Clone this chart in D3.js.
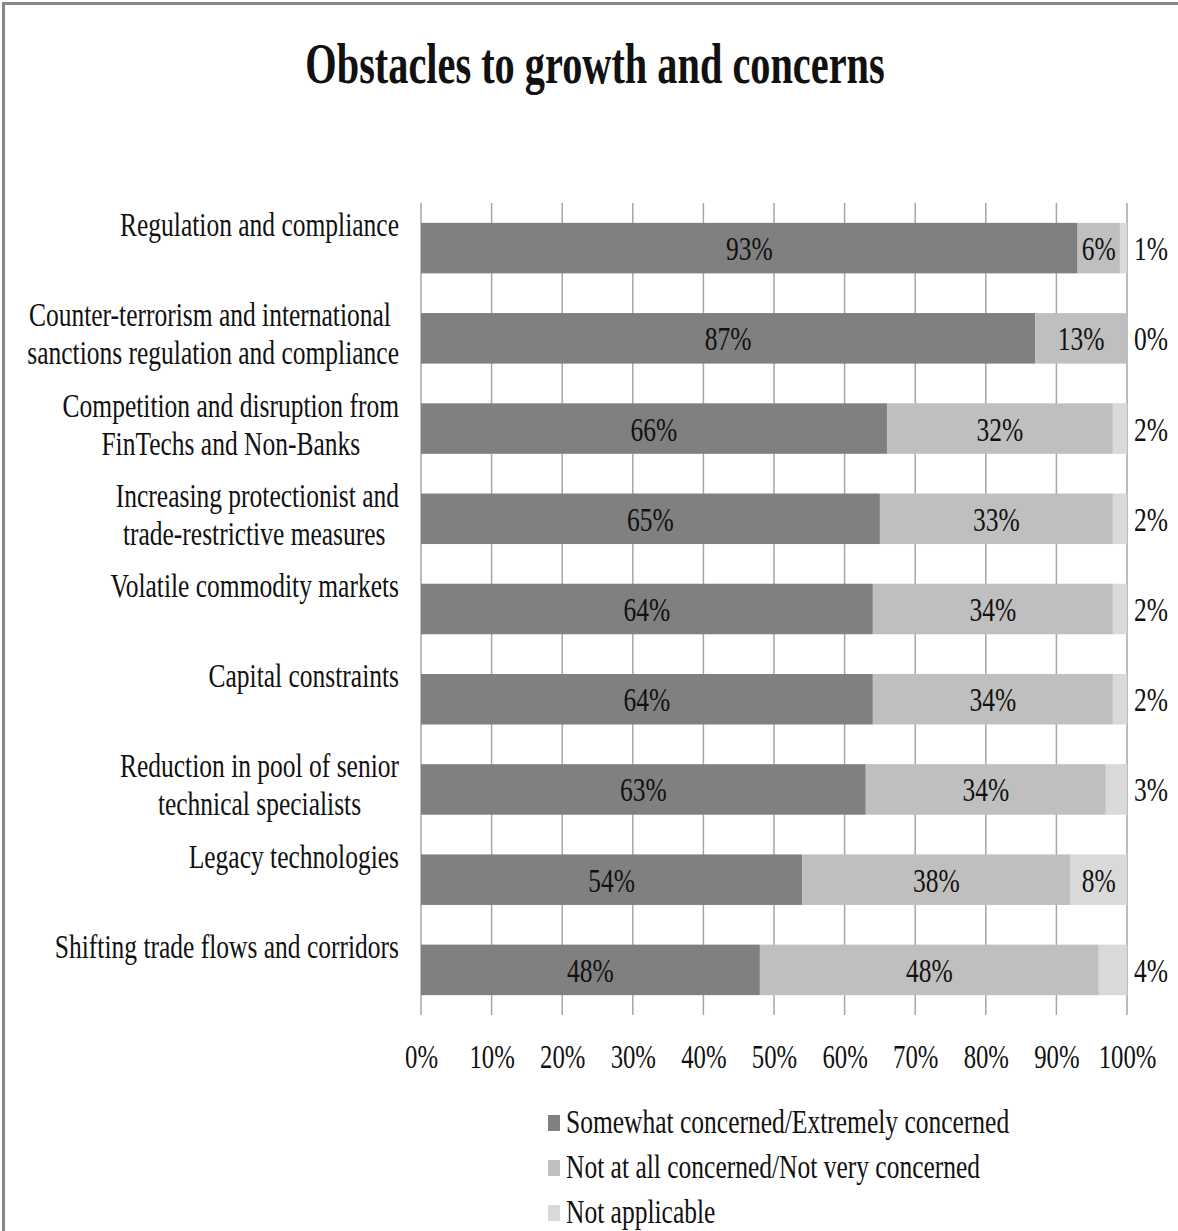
<!DOCTYPE html>
<html>
<head>
<meta charset="utf-8">
<script src="https://cdn.jsdelivr.net/npm/d3@7"></script>
<style>
  body { margin: 0; background: #fff; }
  text { font-family: "Liberation Serif", "Times New Roman", serif; fill: #111; }
</style>
</head>
<body>
<svg id="chart"></svg>
<script>
const categories = [
  ["Regulation and compliance"],
  ["Counter-terrorism and international\u00a0", "sanctions regulation and compliance"],
  ["Competition and disruption from", "FinTechs and Non-Banks"],
  ["Increasing protectionist and", "trade-restrictive measures\u00a0"],
  ["Volatile commodity markets"],
  ["Capital constraints"],
  ["Reduction in pool of senior", "technical specialists"],
  ["Legacy technologies"],
  ["Shifting trade flows and corridors"]
];
const concerned = [93, 87, 66, 65, 64, 64, 63, 54, 48];
const notConcerned = [6, 13, 32, 33, 34, 34, 34, 38, 48];
const notApplicable = [1, 0, 2, 2, 2, 2, 3, 8, 4];
const seriesNames = [
  "Somewhat concerned/Extremely concerned",
  "Not at all concerned/Not very concerned",
  "Not applicable"
];
const xTicks = [0, 10, 20, 30, 40, 50, 60, 70, 80, 90, 100];

const colors = ["#808080", "#bfbfbf", "#d9d9d9"];
const font = "'Liberation Serif', 'Times New Roman', serif";
const sx = 0.75; // narrow type, as in the picture

const W = 1178, H = 1231;
const svg = d3.select("#chart").attr("width", W).attr("height", H);

// outer frame
svg.append("rect")
  .attr("x", 3.5).attr("y", 3.5)
  .attr("width", 1300).attr("height", 1400)
  .attr("fill", "none").attr("stroke", "#888").attr("stroke-width", 3);

svg.append("text")
  .attr("transform", "translate(595,83) scale(0.72,1)")
  .attr("text-anchor", "middle")
  .style("font-family", font)
  .style("font-size", "56px")
  .style("font-weight", "bold")
  .text("Obstacles to growth and concerns");

const x = d3.scaleLinear().domain([0, 100]).range([421, 1127]);
const keys = categories.map((d, i) => i);
const y = d3.scaleBand().domain(keys).range([203, 1015])
  .paddingInner(0.44).paddingOuter(0.22);

// gridlines
svg.append("g").selectAll("line")
  .data(xTicks)
  .enter()
  .append("line")
  .attr("x1", (d) => x(d)).attr("x2", (d) => x(d))
  .attr("y1", 203).attr("y2", 1015)
  .attr("stroke", "#a6a6a6").attr("stroke-width", 1.5);

// stacked bars
const rows = keys.map((i) => ({
  i: i,
  vals: [concerned[i], notConcerned[i], notApplicable[i]]
}));
const stack = d3.stack().keys([0, 1, 2]).value((d, k) => d.vals[k]);
const layers = stack(rows);

layers.forEach(function (layer, k) {
  svg.append("g").selectAll("rect")
    .data(layer)
    .enter()
    .append("rect")
    .attr("x", (d) => x(d[0]))
    .attr("y", (d) => y(d.data.i))
    .attr("width", (d) => x(d[1]) - x(d[0]))
    .attr("height", y.bandwidth())
    .attr("fill", colors[k]);

  svg.append("g").selectAll("text")
    .data(layer)
    .enter()
    .append("text")
    .attr("transform", function (d) {
      const v = d[1] - d[0];
      let cx = x((d[0] + d[1]) / 2);
      if (k === 2 && v < 5) cx = x(100) + 24;
      const cy = y(d.data.i) + y.bandwidth() / 2 + 12;
      return "translate(" + cx + "," + cy + ") scale(" + sx + ",1)";
    })
    .attr("text-anchor", "middle")
    .style("font-family", font)
    .style("font-size", "34px")
    .text((d) => (d[1] - d[0]) + "%");
});

// category labels: lines centred on each other, block right-aligned
keys.forEach(function (i) {
  const g = svg.append("g");
  const lines = categories[i];
  const texts = lines.map((t, j) =>
    g.append("text")
      .attr("x", 0).attr("y", j * 38)
      .attr("text-anchor", "middle")
      .style("font-family", font)
      .style("font-size", "34px")
      .style("white-space", "pre")
      .text(t)
  );
  const maxW = d3.max(texts, (t) => t.node().getComputedTextLength()) * sx;
  const cy = y(i) + y.bandwidth() / 2 - 12;
  g.attr("transform", "translate(" + (399 - maxW / 2) + "," + cy + ") scale(" + sx + ",1)");
});

// x axis labels
const xAxis = d3.axisBottom(x).tickValues(xTicks).tickSize(0)
  .tickFormat((d) => d + "%");
const ax = svg.append("g").attr("transform", "translate(0,1015)").call(xAxis);
ax.select(".domain").remove();
ax.selectAll("text")
  .attr("y", 0).attr("dy", null)
  .attr("transform", "translate(0,53) scale(" + sx + ",1)")
  .style("font-size", "33px")
  .style("font-family", font)
  .attr("fill", "#111");

// legend
const legend = svg.append("g").selectAll("g")
  .data(seriesNames)
  .enter()
  .append("g")
  .attr("transform", (d, k) => "translate(0," + (1133 + k * 45) + ")");
legend.append("rect")
  .attr("x", 548).attr("y", -18)
  .attr("width", 12).attr("height", 16)
  .attr("fill", (d, k) => colors[k]);
legend.append("text")
  .attr("transform", "translate(566,0) scale(" + sx + ",1)")
  .style("font-family", font)
  .style("font-size", "34px")
  .text((d) => d);
</script>
</body>
</html>
